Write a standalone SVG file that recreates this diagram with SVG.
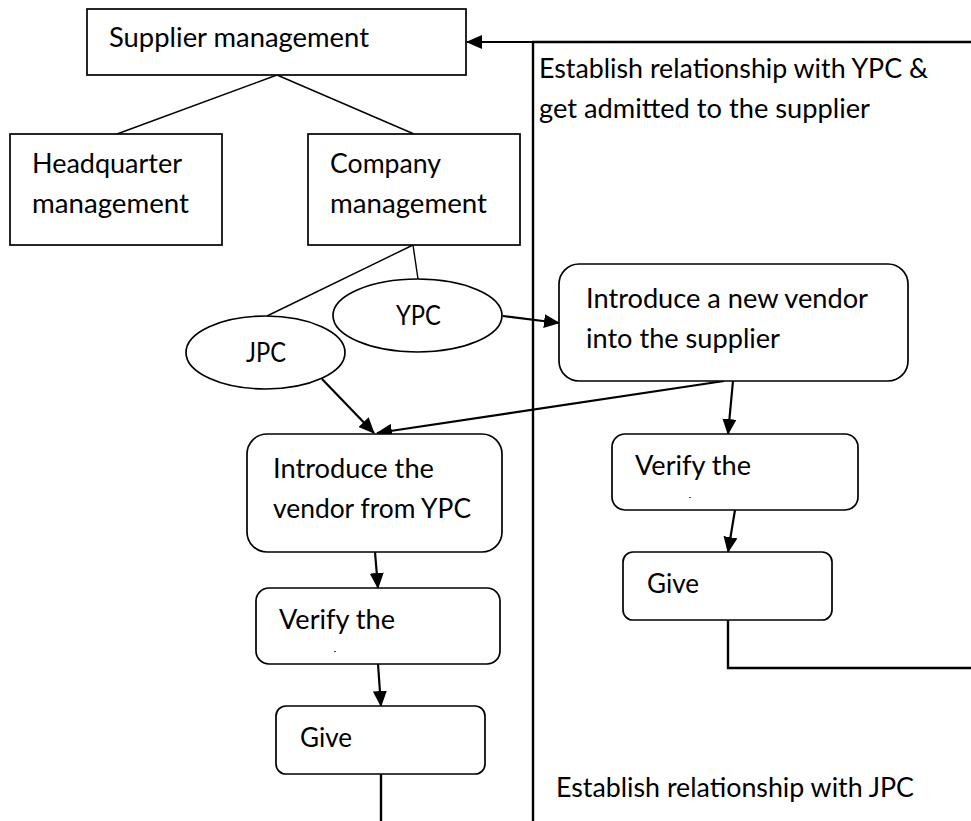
<svg xmlns="http://www.w3.org/2000/svg" width="971" height="821" viewBox="0 0 971 821">
<style>
  .box { fill: #fff; stroke: #000; stroke-width: 1.7; }
  .t { font-family: Lato, "Open Sans", "Liberation Sans", sans-serif; font-size: 26px; fill: #000; }
  .tc { text-anchor: middle; }
  .tree { stroke: #000; stroke-width: 1.4; fill: none; }
  .arr { stroke: #000; stroke-width: 2.2; fill: none; marker-end: url(#ah); }
  .ln { stroke: #000; stroke-width: 2.4; fill: none; }
  .dash { stroke: #555; stroke-width: 1; }
</style>
<defs>
  <marker id="ah" viewBox="0 0 16 14" refX="15" refY="7" markerWidth="16" markerHeight="14" markerUnits="userSpaceOnUse" orient="auto">
    <path d="M0,0 L16,7 L0,14 z" fill="#000"/>
  </marker>
</defs>
<rect width="971" height="821" fill="#fff"/>

<g id="connectors">
  <line class="tree" x1="277" y1="75" x2="117" y2="134"/>
  <line class="tree" x1="277" y1="75" x2="414" y2="134"/>
  <line class="tree" x1="413" y1="245" x2="267" y2="316"/>
  <line class="tree" x1="413" y1="245" x2="418" y2="279"/>
  <polyline class="ln" points="533,821 533,42 971,42"/>
  <line class="arr" x1="533" y1="42" x2="467" y2="42"/>
  <line class="arr" x1="503" y1="316" x2="559" y2="323"/>
  <line class="arr" x1="322" y1="379" x2="374" y2="433"/>
  <line class="arr" x1="724" y1="381" x2="377" y2="433"/>
  <line class="arr" x1="733" y1="381" x2="728" y2="434"/>
  <line class="arr" x1="375" y1="552" x2="378" y2="588"/>
  <line class="arr" x1="378" y1="664" x2="381" y2="706"/>
  <line class="arr" x1="735" y1="510" x2="728" y2="552"/>
  <polyline class="ln" points="728,620 728,668 971,668"/>
  <line class="ln" x1="381" y1="774" x2="381" y2="821"/>
</g>

<g id="supplier-management">
  <rect class="box" x="87" y="9" width="379" height="66"/>
  <text class="t" x="109" y="47" textLength="260" lengthAdjust="spacingAndGlyphs">Supplier management</text>
</g>

<g id="headquarter-management">
  <rect class="box" x="10" y="134" width="212" height="111"/>
  <text class="t" x="32" y="173" textLength="150" lengthAdjust="spacingAndGlyphs">Headquarter</text>
  <text class="t" x="32" y="213" textLength="157" lengthAdjust="spacingAndGlyphs">management</text>
</g>

<g id="company-management">
  <rect class="box" x="308" y="134" width="212" height="111"/>
  <text class="t" x="330" y="173" textLength="111" lengthAdjust="spacingAndGlyphs">Company</text>
  <text class="t" x="330" y="213" textLength="157" lengthAdjust="spacingAndGlyphs">management</text>
</g>

<g id="ypc">
  <ellipse class="box" cx="417.5" cy="315.5" rx="84.5" ry="36.5"/>
  <text class="t tc" x="418.5" y="325" textLength="45" lengthAdjust="spacingAndGlyphs">YPC</text>
</g>

<g id="jpc">
  <ellipse class="box" cx="265.5" cy="352.5" rx="79.5" ry="36.5"/>
  <text class="t tc" x="266" y="362" textLength="40" lengthAdjust="spacingAndGlyphs">JPC</text>
</g>

<g id="label-ypc">
  <text class="t" x="539" y="78" textLength="389" lengthAdjust="spacingAndGlyphs">Establish relationship with YPC &amp;</text>
  <text class="t" x="539" y="118" textLength="331" lengthAdjust="spacingAndGlyphs">get admitted to the supplier</text>
</g>

<g id="introduce-new-vendor">
  <rect class="box" x="559" y="264" width="349" height="117" rx="20" ry="20"/>
  <text class="t" x="586" y="308" textLength="282" lengthAdjust="spacingAndGlyphs">Introduce a new vendor</text>
  <text class="t" x="586" y="348" textLength="194" lengthAdjust="spacingAndGlyphs">into the supplier</text>
</g>

<g id="introduce-vendor-from-ypc">
  <rect class="box" x="247" y="434" width="255" height="118" rx="20" ry="20"/>
  <text class="t" x="273" y="478" textLength="161" lengthAdjust="spacingAndGlyphs">Introduce the</text>
  <text class="t" x="273" y="518" textLength="198" lengthAdjust="spacingAndGlyphs">vendor from YPC</text>
</g>

<g id="verify-right">
  <rect class="box" x="612" y="434" width="246" height="76" rx="13" ry="13"/>
  <text class="t" x="635" y="475" textLength="116" lengthAdjust="spacingAndGlyphs">Verify the</text>
  <line class="dash" x1="689" y1="497.5" x2="691" y2="497.5"/>
</g>

<g id="give-right">
  <rect class="box" x="623" y="552" width="209" height="68" rx="10" ry="10"/>
  <text class="t" x="647" y="593" textLength="52" lengthAdjust="spacingAndGlyphs">Give</text>
</g>

<g id="verify-left">
  <rect class="box" x="256" y="588" width="244" height="76" rx="13" ry="13"/>
  <text class="t" x="279" y="629" textLength="116" lengthAdjust="spacingAndGlyphs">Verify the</text>
  <line class="dash" x1="334" y1="651.5" x2="336" y2="651.5"/>
</g>

<g id="give-left">
  <rect class="box" x="276" y="706" width="209" height="68" rx="10" ry="10"/>
  <text class="t" x="300" y="747" textLength="52" lengthAdjust="spacingAndGlyphs">Give</text>
</g>

<g id="label-jpc">
  <text class="t" x="556" y="797" textLength="358" lengthAdjust="spacingAndGlyphs">Establish relationship with JPC</text>
</g>
</svg>
